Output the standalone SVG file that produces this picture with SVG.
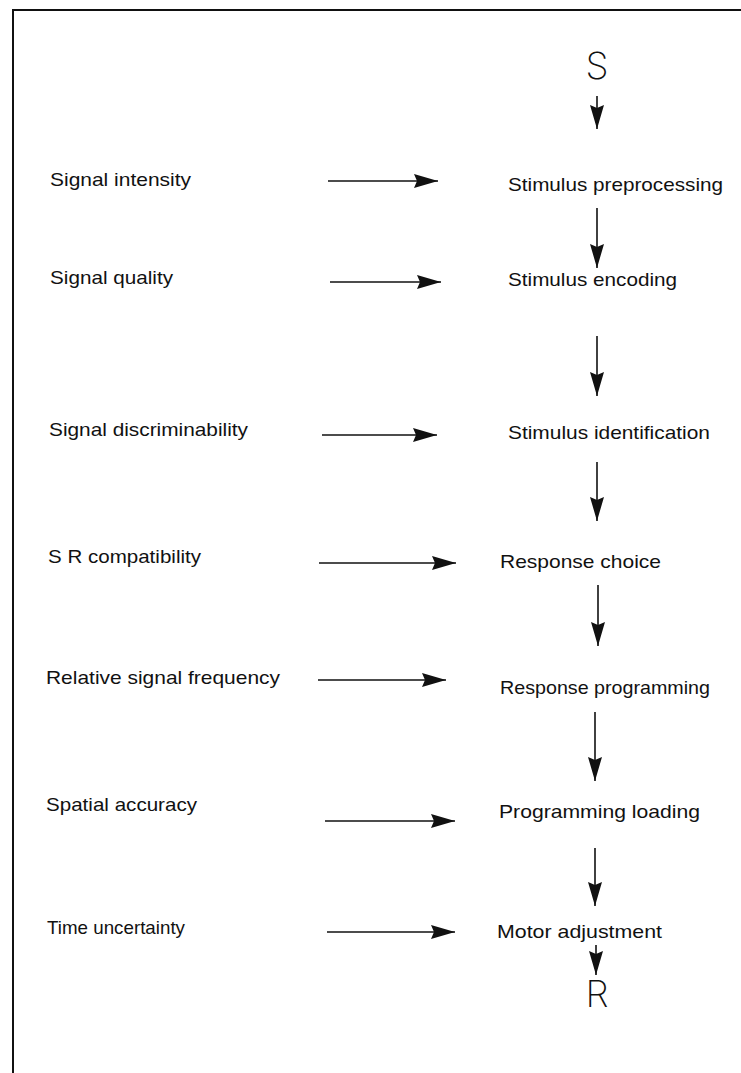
<svg xmlns="http://www.w3.org/2000/svg" width="741" height="1073" viewBox="0 0 741 1073">
  <style>
    .lbl { font-family: "Liberation Sans", Arial, sans-serif; font-size: 19px; fill: #111; }
    .big { font-family: Inter, "Liberation Sans", sans-serif; font-weight: 200; font-size: 37px; fill: #111; }
    .ln { stroke: #111; stroke-width: 1.6; fill: none; }
    .frame { stroke: #111; stroke-width: 2; fill: none; }
  </style>
  <defs>
    <!-- solid triangular arrowhead, drawn in user units -->
    <marker id="head" markerUnits="userSpaceOnUse" markerWidth="26" markerHeight="16" refX="24" refY="7" orient="auto">
      <path d="M0,0 L24,7 L0,14 L3,7 Z" fill="#111"/>
    </marker>
  </defs>

  <!-- frame -->
  <path class="frame" d="M741,10 L13,10 L13,1073"/>

  <!-- stimulus / response terminals -->
  <g id="S"><text class="big" x="597" y="79" text-anchor="middle">S</text></g>
  <g id="R"><text class="big" x="597" y="1007" text-anchor="middle">R</text></g>

  <!-- factors -->
  <g id="f1"><text class="lbl" x="50" y="186" textLength="141" lengthAdjust="spacingAndGlyphs">Signal intensity</text></g>
  <g id="f2"><text class="lbl" x="50" y="284" textLength="123" lengthAdjust="spacingAndGlyphs">Signal quality</text></g>
  <g id="f3"><text class="lbl" x="49" y="436" textLength="199" lengthAdjust="spacingAndGlyphs">Signal discriminability</text></g>
  <g id="f4"><text class="lbl" x="48" y="563" textLength="153" lengthAdjust="spacingAndGlyphs">S R compatibility</text></g>
  <g id="f5"><text class="lbl" x="46" y="684" textLength="234" lengthAdjust="spacingAndGlyphs">Relative signal frequency</text></g>
  <g id="f6"><text class="lbl" x="46" y="811" textLength="151" lengthAdjust="spacingAndGlyphs">Spatial accuracy</text></g>
  <g id="f7"><text class="lbl" x="47" y="934" textLength="138" lengthAdjust="spacingAndGlyphs">Time uncertainty</text></g>

  <!-- processing stages -->
  <g id="p1"><text class="lbl" x="508" y="191" textLength="215" lengthAdjust="spacingAndGlyphs">Stimulus preprocessing</text></g>
  <g id="p2"><text class="lbl" x="508" y="286" textLength="169" lengthAdjust="spacingAndGlyphs">Stimulus encoding</text></g>
  <g id="p3"><text class="lbl" x="508" y="439" textLength="202" lengthAdjust="spacingAndGlyphs">Stimulus identification</text></g>
  <g id="p4"><text class="lbl" x="500" y="568" textLength="161" lengthAdjust="spacingAndGlyphs">Response choice</text></g>
  <g id="p5"><text class="lbl" x="500" y="694" textLength="210" lengthAdjust="spacingAndGlyphs">Response programming</text></g>
  <g id="p6"><text class="lbl" x="499" y="818" textLength="201" lengthAdjust="spacingAndGlyphs">Programming loading</text></g>
  <g id="p7"><text class="lbl" x="497" y="938" textLength="165" lengthAdjust="spacingAndGlyphs">Motor adjustment</text></g>

  <!-- connectors -->
  <g id="connectors">
    <line class="ln" x1="328" y1="181" x2="438" y2="181" marker-end="url(#head)"/>
    <line class="ln" x1="330" y1="282" x2="441" y2="282" marker-end="url(#head)"/>
    <line class="ln" x1="322" y1="435" x2="437" y2="435" marker-end="url(#head)"/>
    <line class="ln" x1="319" y1="563" x2="456" y2="563" marker-end="url(#head)"/>
    <line class="ln" x1="318" y1="680" x2="446" y2="680" marker-end="url(#head)"/>
    <line class="ln" x1="325" y1="821" x2="455" y2="821" marker-end="url(#head)"/>
    <line class="ln" x1="327" y1="932" x2="455" y2="932" marker-end="url(#head)"/>

    <line class="ln" x1="597" y1="96" x2="597" y2="129" marker-end="url(#head)"/>
    <line class="ln" x1="597" y1="208" x2="597" y2="268" marker-end="url(#head)"/>
    <line class="ln" x1="597" y1="336" x2="597" y2="396" marker-end="url(#head)"/>
    <line class="ln" x1="597" y1="462" x2="597" y2="521" marker-end="url(#head)"/>
    <line class="ln" x1="598" y1="585" x2="598" y2="646" marker-end="url(#head)"/>
    <line class="ln" x1="595" y1="712" x2="595" y2="781" marker-end="url(#head)"/>
    <line class="ln" x1="595" y1="848" x2="595" y2="906" marker-end="url(#head)"/>
    <line class="ln" x1="596" y1="945" x2="596" y2="975" marker-end="url(#head)"/>
  </g>
</svg>
